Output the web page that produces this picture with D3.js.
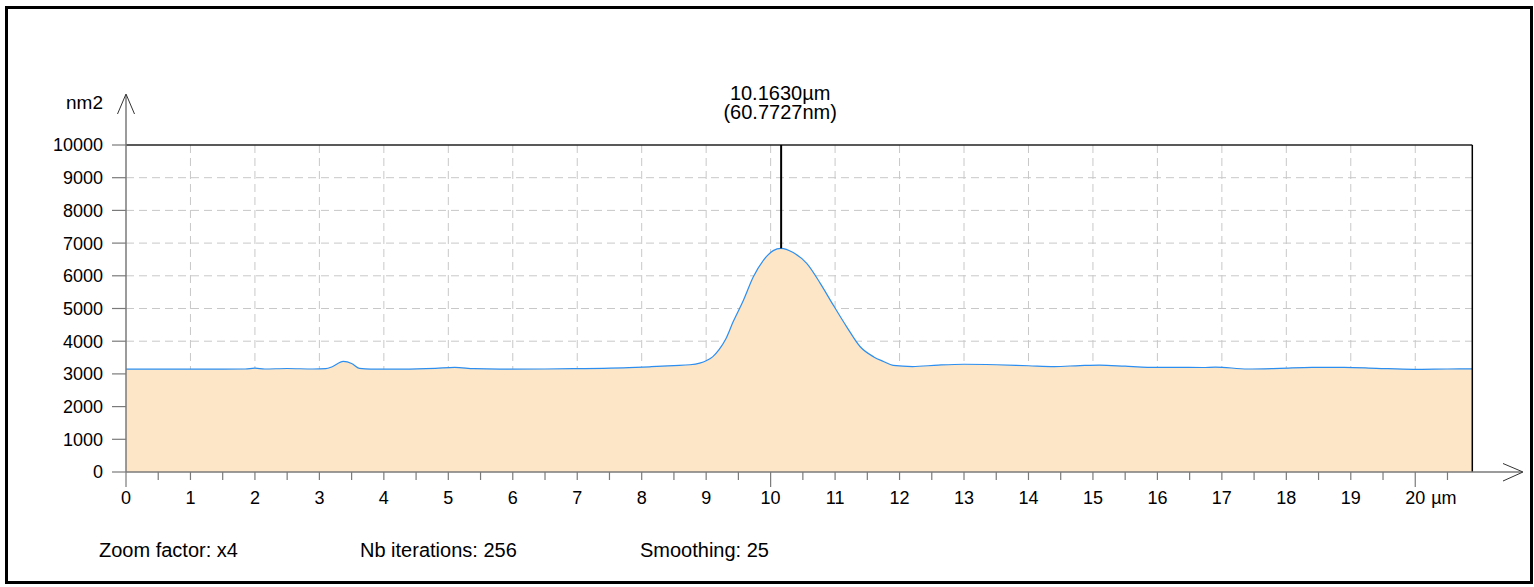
<!DOCTYPE html>
<html>
<head>
<meta charset="utf-8">
<script src="https://cdn.jsdelivr.net/npm/d3@7"></script>
<style>
  body { margin: 0; background: #fff; }
  svg { display: block; font-family: "Liberation Sans", Arial, sans-serif; }
  .grid { stroke: #c8c8c8; stroke-dasharray: 8,5; stroke-width: 1; }
</style>
</head>
<body>
<div id="chart"></div>
<script>
// profile (µm -> nm2)
const profileX = [0, 0.5, 1.0, 1.5, 1.85, 2.0, 2.15, 2.5, 2.9, 3.1, 3.2, 3.37, 3.5, 3.62, 3.8, 4.3, 4.8, 5.1, 5.4, 5.8,
  6.5, 7.0, 7.4, 7.8, 8.15, 8.5, 8.75, 8.9, 9.0, 9.1, 9.2, 9.3, 9.42, 9.58, 9.73, 9.89, 10.04, 10.16, 10.35, 10.56,
  10.77, 10.97, 11.18, 11.39, 11.6, 11.75, 11.9, 12.2, 12.6, 13.0, 13.5, 14.0, 14.4, 14.8, 15.1, 15.5, 15.85, 16.35,
  16.7, 16.9, 17.4, 17.9, 18.4, 18.9, 19.4, 19.97, 20.5, 20.885];
const profileY = [3145, 3145, 3145, 3148, 3150, 3178, 3150, 3165, 3150, 3160, 3220, 3380, 3320, 3170, 3145, 3145, 3170, 3200, 3160, 3145,
  3150, 3160, 3170, 3190, 3220, 3255, 3280, 3330, 3400, 3520, 3740, 4050, 4600, 5260, 5960, 6480, 6770, 6840, 6710, 6380,
  5770, 5110, 4440, 3830, 3520, 3380, 3260, 3225, 3270, 3295, 3280, 3250, 3225, 3255, 3270, 3235, 3200, 3200,
  3195, 3210, 3150, 3170, 3200, 3200, 3170, 3140, 3150, 3155];

const yTicks = [0, 1000, 2000, 3000, 4000, 5000, 6000, 7000, 8000, 9000, 10000];
const xTicks = [0, 1, 2, 3, 4, 5, 6, 7, 8, 9, 10, 11, 12, 13, 14, 15, 16, 17, 18, 19, 20];
const peakX = 10.163;
const peakLabel = ['10.1630µm', '(60.7727nm)'];
const infoTexts = ['Zoom factor: x4', 'Nb iterations: 256', 'Smoothing: 25'];
const infoX = [99, 360, 640];

const width = 1534, height = 587;
const plotLeft = 126, plotRight = 1472.3, plotTop = 145, plotBottom = 472;

const x = d3.scaleLinear().domain([0, 20.885]).range([plotLeft, plotRight]);
const y = d3.scaleLinear().domain([0, 10000]).range([plotBottom, plotTop]);

const svg = d3.select('#chart').append('svg')
    .attr('width', width)
    .attr('height', height);

// outer frame
svg.append('rect')
    .attr('x', 6.5).attr('y', 7.5)
    .attr('width', 1525).attr('height', 575)
    .attr('fill', 'none')
    .attr('stroke', '#000')
    .attr('stroke-width', 3);

// grid
svg.append('g').selectAll('line')
    .data(yTicks.filter(d => d > 0 && d < 10000))
    .join('line')
    .attr('class', 'grid')
    .attr('x1', plotLeft).attr('x2', plotRight)
    .attr('y1', d => y(d)).attr('y2', d => y(d));

svg.append('g').selectAll('line')
    .data(xTicks.filter(d => d > 0))
    .join('line')
    .attr('class', 'grid')
    .attr('x1', d => x(d)).attr('x2', d => x(d))
    .attr('y1', plotTop).attr('y2', plotBottom);

// profile
const pts = profileX.map((d, i) => [d, profileY[i]]);

svg.append('path')
    .datum(pts)
    .attr('fill', '#fde6c8')
    .attr('d', d3.area().x(d => x(d[0])).y0(plotBottom).y1(d => y(d[1])).curve(d3.curveMonotoneX));

svg.append('path')
    .datum(pts)
    .attr('fill', 'none')
    .attr('stroke', '#2b8ef0')
    .attr('stroke-width', 1.2)
    .attr('d', d3.line().x(d => x(d[0])).y(d => y(d[1])).curve(d3.curveMonotoneX));

// plot frame top / right
svg.append('line')
    .attr('x1', plotLeft).attr('x2', plotRight)
    .attr('y1', plotTop).attr('y2', plotTop)
    .attr('stroke', '#222').attr('stroke-width', 1.5);
svg.append('line')
    .attr('x1', plotRight).attr('x2', plotRight)
    .attr('y1', plotTop).attr('y2', plotBottom)
    .attr('stroke', '#000').attr('stroke-width', 1.5);

// y axis
const axisColor = '#7a7a7a';
svg.append('line')
    .attr('x1', plotLeft).attr('x2', plotLeft)
    .attr('y1', plotBottom).attr('y2', 95)
    .attr('stroke', axisColor).attr('stroke-width', 1.5);
svg.append('path')
    .attr('d', 'M117.5,114L' + plotLeft + ',94L134.5,114')
    .attr('fill', 'none').attr('stroke', '#333').attr('stroke-width', 1);

svg.append('g').selectAll('line')
    .data(yTicks)
    .join('line')
    .attr('x1', 112).attr('x2', plotLeft)
    .attr('y1', d => y(d)).attr('y2', d => y(d))
    .attr('stroke', axisColor).attr('stroke-width', 1.2);

svg.append('g').selectAll('text')
    .data(yTicks)
    .join('text')
    .attr('x', 103)
    .attr('y', d => y(d))
    .attr('dy', '0.36em')
    .attr('text-anchor', 'end')
    .attr('font-size', 18)
    .text(d => d);

svg.append('text')
    .attr('x', 103).attr('y', 109)
    .attr('text-anchor', 'end')
    .attr('font-size', 19)
    .text('nm2');

// x axis
svg.append('line')
    .attr('x1', plotLeft).attr('x2', 1522)
    .attr('y1', plotBottom).attr('y2', plotBottom)
    .attr('stroke', axisColor).attr('stroke-width', 1.5);
svg.append('path')
    .attr('d', 'M1503,463.5L1523,' + plotBottom + 'L1503,481')
    .attr('fill', 'none').attr('stroke', '#333').attr('stroke-width', 1);

const minorTicks = d3.range(0, 20.9, 0.5);
svg.append('g').selectAll('line')
    .data(minorTicks)
    .join('line')
    .attr('x1', d => x(d)).attr('x2', d => x(d))
    .attr('y1', plotBottom).attr('y2', d => d % 10 === 0 ? plotBottom + 15 : plotBottom + 8)
    .attr('stroke', axisColor).attr('stroke-width', 1.2);

svg.append('g').selectAll('text')
    .data(xTicks)
    .join('text')
    .attr('x', d => x(d))
    .attr('y', 504)
    .attr('text-anchor', 'middle')
    .attr('font-size', 18)
    .text(d => d);

// unit after last tick label
svg.append('text')
    .attr('x', x(20) + 16)
    .attr('y', 504)
    .attr('font-size', 18)
    .text('µm');

// peak marker
const peakVal = profileY[profileX.indexOf(10.16)];
svg.append('line')
    .attr('x1', x(peakX)).attr('x2', x(peakX))
    .attr('y1', plotTop).attr('y2', y(peakVal))
    .attr('stroke', '#000').attr('stroke-width', 2);

svg.append('g').selectAll('text')
    .data(peakLabel)
    .join('text')
    .attr('x', x(peakX) - 1)
    .attr('y', (d, i) => 100 + i * 19)
    .attr('text-anchor', 'middle')
    .attr('font-size', 20)
    .text(d => d);

// info line
svg.append('g').selectAll('text')
    .data(infoTexts)
    .join('text')
    .attr('x', (d, i) => infoX[i])
    .attr('y', 557)
    .attr('font-size', 20)
    .text(d => d);
</script>
</body>
</html>
